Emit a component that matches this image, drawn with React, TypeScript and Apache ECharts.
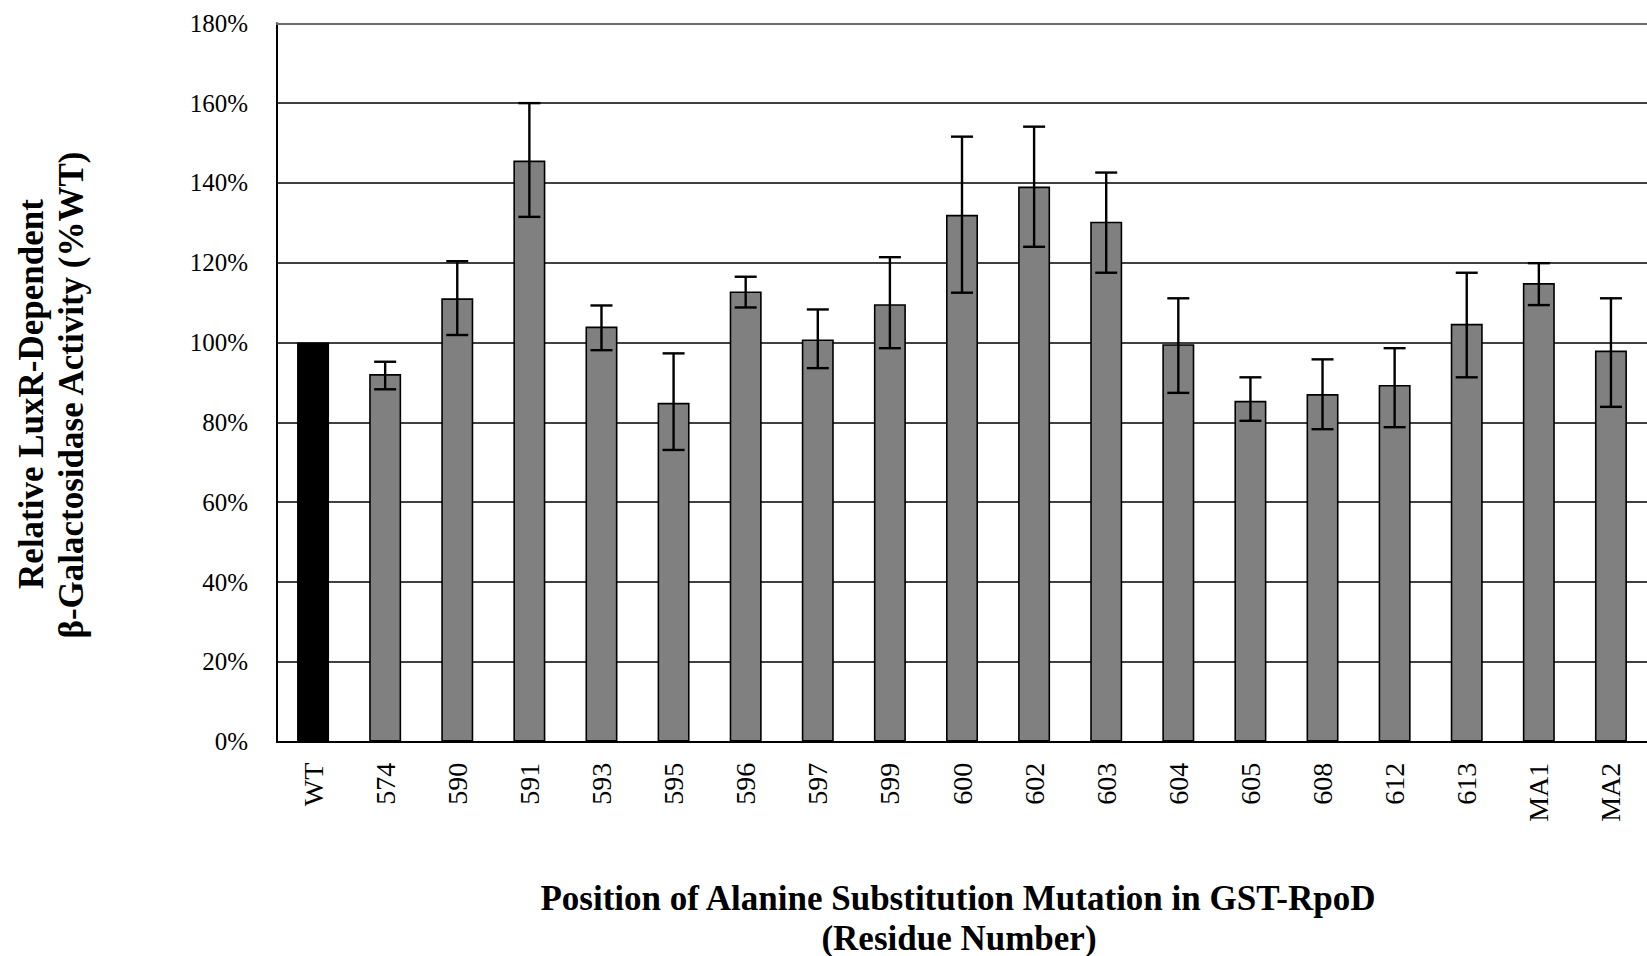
import React, { useEffect, useRef } from 'react';
import * as echarts from 'echarts';

const categories = ['WT', '574', '590', '591', '593', '595', '596', '597', '599', '600', '602', '603', '604', '605', '608', '612', '613', 'MA1', 'MA2'];
const values = [100, 92.1, 111.1, 145.6, 104.0, 84.9, 112.8, 100.8, 109.6, 132.0, 139.1, 130.3, 99.6, 85.4, 87.1, 89.4, 104.7, 114.9, 98.0];
const errorHigh = [null, 95.2, 120.4, 160.0, 109.3, 97.3, 116.5, 108.3, 121.4, 151.6, 154.1, 142.6, 111.1, 91.3, 95.8, 98.6, 117.5, 119.9, 111.1];
const errorLow = [null, 88.3, 101.9, 131.5, 98.1, 73.1, 108.8, 93.6, 98.6, 112.5, 124.0, 117.5, 87.4, 80.4, 78.3, 78.8, 91.3, 109.4, 83.9];
const yTitleLines = ['Relative LuxR-Dependent', 'β-Galactosidase Activity (%WT)'];
const xTitleLines = ['Position of Alanine Substitution Mutation in GST-RpoD', '(Residue Number)'];

const SERIF = '"Liberation Serif", "Times New Roman", serif';

export default function App() {
  const ref = useRef<HTMLDivElement>(null);
  useEffect(() => {
    if (!ref.current) return;
    const chart = echarts.init(ref.current, null, { renderer: 'svg' });
    const errData: any[] = [];
    errorLow.forEach((lo, i) => {
      if (lo != null && errorHigh[i] != null) errData.push([i, lo, errorHigh[i]]);
    });
    const barData = values.map((v, i) => ({
      value: v,
      itemStyle: i === 0 ? { color: '#000000', borderColor: '#000000' } : undefined,
    }));
    chart.setOption({
      animation: false,
      backgroundColor: '#ffffff',
      grid: { left: 277, top: 23.3, width: 1378, height: 718.4, containLabel: false },
      xAxis: [
        {
          type: 'category',
          data: categories,
          position: 'bottom',
          axisLine: { show: true, lineStyle: { color: '#000', width: 2 } },
          axisTick: { show: false },
          axisLabel: {
            rotate: 90,
            margin: 21,
            fontFamily: SERIF,
            fontSize: 28,
            color: '#000',
            interval: 0,
          },
          splitLine: { show: false },
        },
        {
          type: 'category',
          data: categories,
          position: 'top',
          axisLine: { show: true, lineStyle: { color: '#6e6e6e', width: 2.2 } },
          axisTick: { show: false },
          axisLabel: { show: false },
          splitLine: { show: false },
        },
      ],
      yAxis: {
        type: 'value',
        min: 0,
        max: 180,
        interval: 20,
        axisLine: { show: true, lineStyle: { color: '#000', width: 2 } },
        axisTick: { show: false },
        axisLabel: {
          formatter: (v: number) => `${v}%`,
          fontFamily: SERIF,
          fontSize: 25,
          color: '#000',
          margin: 29,
        },
        splitLine: { show: true, lineStyle: { color: '#000', width: 1.7 } },
      },
      series: [
        {
          type: 'bar',
          data: barData,
          barWidth: 32,
          itemStyle: { color: '#808080', borderColor: '#000', borderWidth: 1.6 },
          z: 2,
        },
        {
          type: 'custom',
          data: errData,
          encode: { x: 0, y: [1, 2] },
          z: 5,
          renderItem: (params: any, api: any) => {
            const x = api.value(0);
            const lo = api.value(1);
            const hi = api.value(2);
            const pHi = api.coord([x, hi]);
            const pLo = api.coord([x, lo]);
            const half = 11;
            const style = { stroke: '#000', lineWidth: 2.4 };
            return {
              type: 'group',
              children: [
                { type: 'line', shape: { x1: pHi[0], y1: pHi[1], x2: pLo[0], y2: pLo[1] }, style },
                { type: 'line', shape: { x1: pHi[0] - half, y1: pHi[1], x2: pHi[0] + half, y2: pHi[1] }, style },
                { type: 'line', shape: { x1: pLo[0] - half, y1: pLo[1], x2: pLo[0] + half, y2: pLo[1] }, style },
              ],
            };
          },
        },
      ],
      graphic: [
        {
          type: 'text',
          x: 31,
          y: 394,
          rotation: Math.PI / 2,
          style: { text: yTitleLines[0], font: `bold 35px ${SERIF}`, fill: '#000', align: 'center', verticalAlign: 'middle' },
        },
        {
          type: 'text',
          x: 71,
          y: 395,
          rotation: Math.PI / 2,
          style: { text: yTitleLines[1], font: `bold 35px ${SERIF}`, fill: '#000', align: 'center', verticalAlign: 'middle' },
        },
        {
          type: 'text',
          x: 958,
          y: 898,
          style: { text: xTitleLines[0], font: `bold 35px ${SERIF}`, fill: '#000', align: 'center', verticalAlign: 'middle' },
        },
        {
          type: 'text',
          x: 959,
          y: 938,
          style: { text: xTitleLines[1], font: `bold 35px ${SERIF}`, fill: '#000', align: 'center', verticalAlign: 'middle' },
        },
      ],
    });
    return () => chart.dispose();
  }, []);
  return <div ref={ref} style={{ position: 'absolute', left: 0, top: 0, width: 1647, height: 956 }} />;
}
